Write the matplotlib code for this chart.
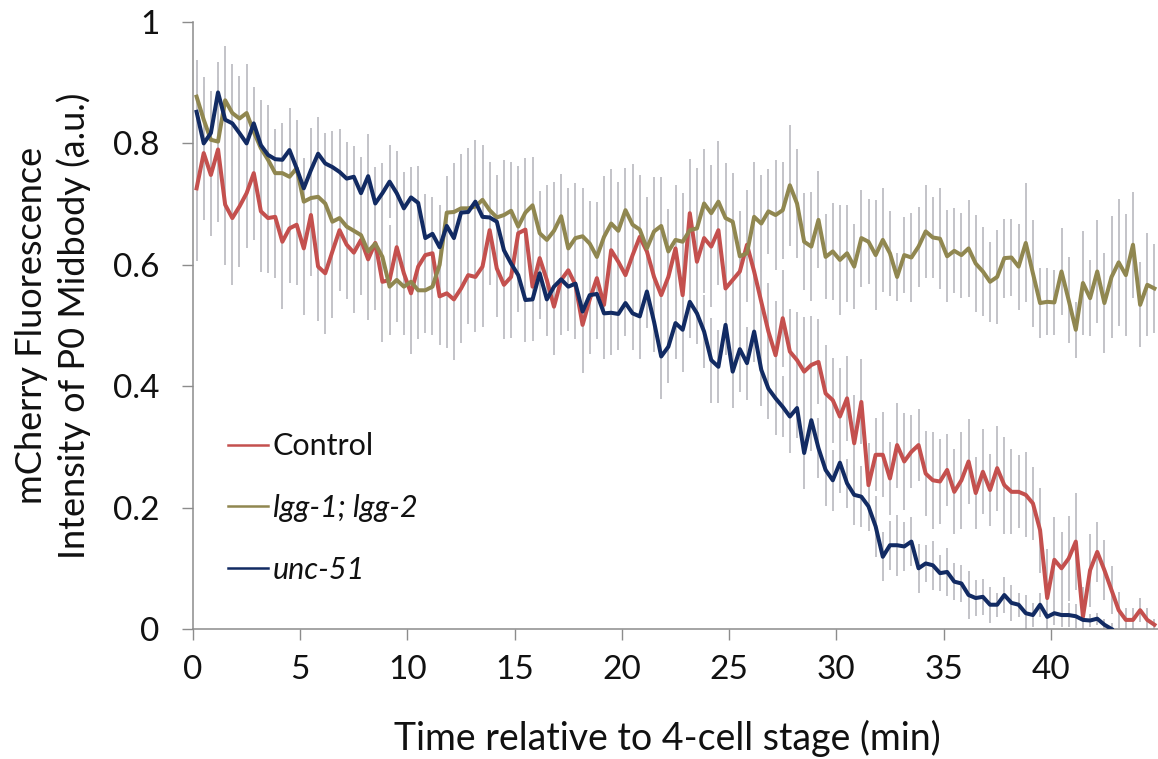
import numpy as np
import matplotlib
matplotlib.use("Agg")
import matplotlib.pyplot as plt
from matplotlib.lines import Line2D

plt.rcParams['font.family'] = ['Lato', 'DejaVu Sans']

# frames every 20 s, time in min relative to 4-cell stage
n_frames = 135
time_min = (np.arange(n_frames) + 0.5) / 3.0

control = [0.726, 0.784, 0.748, 0.790, 0.699, 0.677, 0.696, 0.718, 0.751, 0.688,
           0.677, 0.679, 0.638, 0.660, 0.666, 0.627, 0.682, 0.597, 0.586, 0.622,
           0.657, 0.633, 0.620, 0.641, 0.609, 0.636, 0.572, 0.575, 0.629, 0.586,
           0.553, 0.597, 0.616,
           0.619, 0.548, 0.553, 0.543, 0.561, 0.583, 0.580, 0.597, 0.657, 0.594,
           0.567, 0.580, 0.652, 0.658, 0.564, 0.611, 0.575, 0.531, 0.575, 0.591,
           0.567, 0.501, 0.543, 0.578, 0.534, 0.624, 0.605, 0.583, 0.616, 0.646,
           0.622, 0.580, 0.550, 0.580,
           0.627, 0.550, 0.685, 0.605, 0.644, 0.630, 0.657, 0.561, 0.575, 0.589,
           0.633, 0.589, 0.539, 0.490, 0.451, 0.512, 0.457, 0.443, 0.424, 0.435,
           0.440, 0.388, 0.377, 0.350, 0.380, 0.306, 0.374,
           0.237, 0.287, 0.287, 0.248, 0.303, 0.276, 0.292, 0.303, 0.256, 0.245,
           0.243, 0.262, 0.226, 0.245, 0.276, 0.224, 0.259, 0.229, 0.265, 0.237,
           0.226, 0.226, 0.221, 0.207, 0.163, 0.051, 0.114, 0.100, 0.116, 0.144,
           0.020, 0.097, 0.127, 0.097, 0.064, 0.031, 0.015, 0.015, 0.031, 0.015,
           0.007]
control_err = [0.12, 0.11, 0.10, 0.12, 0.10, 0.11, 0.10, 0.09, 0.11, 0.10,
               0.09, 0.10, 0.11, 0.09, 0.10, 0.11, 0.10, 0.09, 0.10, 0.11,
               0.10, 0.09, 0.10, 0.09, 0.10, 0.11, 0.10, 0.09, 0.10, 0.09,
               0.10, 0.09, 0.10,
               0.09, 0.08, 0.09, 0.10, 0.09, 0.08, 0.09, 0.10, 0.09, 0.08,
               0.09, 0.10, 0.09, 0.08, 0.09, 0.10, 0.09, 0.08, 0.09, 0.10,
               0.09, 0.08, 0.09, 0.10, 0.09, 0.08, 0.09, 0.10, 0.09, 0.08,
               0.09, 0.10, 0.09, 0.08,
               0.09, 0.10, 0.09, 0.08, 0.09, 0.10, 0.09, 0.08, 0.09, 0.10,
               0.09, 0.08, 0.09, 0.08, 0.09, 0.08, 0.07, 0.08, 0.09, 0.08,
               0.07, 0.08, 0.07, 0.08, 0.07, 0.08, 0.07,
               0.07, 0.06, 0.07, 0.06, 0.07, 0.08, 0.06, 0.06, 0.07, 0.08,
               0.07, 0.06, 0.07, 0.08, 0.07, 0.06, 0.07, 0.06, 0.07, 0.08,
               0.07, 0.06, 0.07, 0.06, 0.07, 0.08, 0.07, 0.06, 0.07, 0.08,
               0.05, 0.06, 0.05, 0.05, 0.04, 0.03, 0.02, 0.02, 0.02, 0.02,
               0.01]

lgg = [0.877, 0.839, 0.806, 0.803, 0.871, 0.850, 0.841, 0.850, 0.819, 0.792,
       0.773, 0.751, 0.751, 0.745, 0.759, 0.704, 0.710, 0.712, 0.701, 0.671,
       0.677, 0.663, 0.656, 0.649, 0.622, 0.635, 0.613, 0.564, 0.575, 0.564,
       0.572, 0.558, 0.558,
       0.564, 0.600, 0.686, 0.687, 0.693, 0.693, 0.696, 0.707, 0.690, 0.678,
       0.682, 0.689, 0.663, 0.686, 0.698, 0.652, 0.641, 0.656, 0.680, 0.627,
       0.644, 0.647, 0.635, 0.613, 0.646, 0.668, 0.656, 0.690, 0.666, 0.658,
       0.627, 0.655, 0.664, 0.622,
       0.641, 0.638, 0.657, 0.660, 0.701, 0.685, 0.704, 0.677, 0.671, 0.614,
       0.619, 0.679, 0.668, 0.688, 0.682, 0.690, 0.731, 0.701, 0.638, 0.630,
       0.674, 0.613, 0.622, 0.608, 0.619, 0.597, 0.644, 0.638, 0.616, 0.641,
       0.619,
       0.580, 0.616, 0.612, 0.630, 0.655, 0.645, 0.643, 0.614, 0.623, 0.616,
       0.627, 0.602, 0.589, 0.572, 0.580, 0.611, 0.612, 0.597, 0.636, 0.586,
       0.537, 0.539, 0.538, 0.589, 0.542, 0.493, 0.570, 0.545, 0.589, 0.537,
       0.580, 0.604, 0.583, 0.633, 0.534, 0.567, 0.561]
lgg_err = [0.06, 0.07, 0.08, 0.07, 0.09, 0.08, 0.07, 0.08, 0.07, 0.08,
           0.09, 0.07, 0.08, 0.09, 0.08, 0.07, 0.09, 0.08, 0.07, 0.08,
           0.09, 0.08, 0.07, 0.09, 0.08, 0.10, 0.09, 0.08, 0.07, 0.08,
           0.09, 0.08, 0.07,
           0.08, 0.07, 0.06, 0.08, 0.09, 0.10, 0.11, 0.09, 0.08, 0.07,
           0.09, 0.08, 0.10, 0.09, 0.08, 0.07, 0.09, 0.08, 0.07, 0.10,
           0.09, 0.08, 0.07, 0.09, 0.10, 0.09, 0.08, 0.07, 0.10, 0.09,
           0.08, 0.09, 0.08, 0.07,
           0.09, 0.08, 0.07, 0.10, 0.09, 0.08, 0.10, 0.09, 0.08, 0.07,
           0.08, 0.09, 0.08, 0.07, 0.09, 0.08, 0.10, 0.09, 0.08, 0.09,
           0.08, 0.07, 0.08, 0.09, 0.08, 0.07,
           0.080, 0.070, 0.090, 0.085, 0.070, 0.040, 0.063, 0.073, 0.066, 0.076,
           0.067, 0.083, 0.076, 0.070, 0.070, 0.080, 0.080, 0.074, 0.066, 0.077,
           0.065, 0.064, 0.071, 0.098, 0.088, 0.057, 0.055, 0.053, 0.071, 0.071,
           0.046, 0.085, 0.063, 0.085, 0.082, 0.100, 0.105, 0.100, 0.087, 0.070,
           0.085, 0.074]

unc51 = [0.852, 0.800, 0.817, 0.884, 0.839, 0.833, 0.817, 0.800, 0.833, 0.797,
         0.781, 0.774, 0.773, 0.789, 0.759, 0.726, 0.756, 0.783, 0.767, 0.761,
         0.753, 0.742, 0.745, 0.718, 0.746, 0.701, 0.718, 0.737, 0.718, 0.693,
         0.711, 0.702, 0.644,
         0.651, 0.629, 0.664, 0.644, 0.686, 0.687, 0.704, 0.679, 0.678, 0.671,
         0.624, 0.602, 0.583, 0.542, 0.543, 0.586, 0.543, 0.564, 0.576, 0.564,
         0.569, 0.523, 0.550, 0.552, 0.520, 0.521, 0.519, 0.537, 0.520, 0.515,
         0.556, 0.506, 0.449, 0.465,
         0.504, 0.493, 0.539, 0.520, 0.490, 0.443, 0.432, 0.501, 0.424, 0.461,
         0.438, 0.490, 0.427, 0.396, 0.380, 0.366, 0.350, 0.364, 0.290, 0.344,
         0.298, 0.262, 0.245, 0.274, 0.240, 0.221,
         0.218, 0.202, 0.169, 0.119, 0.138, 0.138, 0.136, 0.144, 0.100, 0.108,
         0.105, 0.092, 0.094, 0.078, 0.075, 0.056, 0.051, 0.053, 0.040, 0.040,
         0.056, 0.043, 0.040, 0.026, 0.023, 0.040, 0.020, 0.026, 0.023, 0.023,
         0.021, 0.015, 0.014, 0.017, 0.007, 0.000]
unc51_err = [0.06, 0.05, 0.07, 0.05, 0.06, 0.07, 0.06, 0.05, 0.06, 0.07,
             0.06, 0.05, 0.06, 0.07, 0.06, 0.05, 0.07, 0.06, 0.05, 0.06,
             0.07, 0.06, 0.05, 0.06, 0.07, 0.06, 0.05, 0.06, 0.07, 0.06,
             0.05, 0.06, 0.07,
             0.06, 0.07, 0.06, 0.05, 0.06, 0.07, 0.06, 0.05, 0.06, 0.07,
             0.06, 0.07, 0.06, 0.07, 0.06, 0.05, 0.06, 0.07, 0.06, 0.05,
             0.06, 0.07, 0.06, 0.05, 0.06, 0.07, 0.06, 0.05, 0.06, 0.07,
             0.06, 0.05, 0.07, 0.06,
             0.06, 0.07, 0.06, 0.05, 0.06, 0.07, 0.06, 0.05, 0.06, 0.07,
             0.06, 0.05, 0.06, 0.05, 0.06, 0.05, 0.06, 0.05, 0.06, 0.05,
             0.05, 0.06, 0.05, 0.05, 0.04, 0.05,
             0.05, 0.04, 0.05, 0.04, 0.04, 0.05, 0.04, 0.04, 0.04, 0.03,
             0.04, 0.03, 0.04, 0.03, 0.03, 0.04, 0.03, 0.03, 0.03, 0.02,
             0.03, 0.03, 0.02, 0.03, 0.02, 0.02, 0.02, 0.02, 0.02, 0.02,
             0.02, 0.02, 0.01, 0.01, 0.01, 0.01]

series = [
    ("Control", control, control_err, "#c4504e", "normal"),
    ("lgg-1; lgg-2", lgg, lgg_err, "#908750", "italic"),
    ("unc-51", unc51, unc51_err, "#122b63", "italic"),
]

x_ticks = [0, 5, 10, 15, 20, 25, 30, 35, 40]
y_ticks = [0, 0.2, 0.4, 0.6, 0.8, 1.0]
y_tick_labels = ["0", "0.2", "0.4", "0.6", "0.8", "1"]

fig = plt.figure(figsize=(11.58, 7.59), dpi=100)
ax = fig.add_axes([193 / 1158, 130 / 759, 965 / 1158, 607 / 759])

for name, vals, err, col, style in series:
    t = time_min[:len(vals)]
    ax.errorbar(t, vals, yerr=err, fmt='none', ecolor='#c3c3c8',
                elinewidth=1.4, capsize=0, zorder=1)
for name, vals, err, col, style in series:
    t = time_min[:len(vals)]
    ax.plot(t, vals, color=col, lw=2.9, solid_joinstyle='round', zorder=3)

ax.set_xlim(0, 45)
ax.set_ylim(0, 1)
ax.set_xticks(x_ticks)
ax.set_yticks(y_ticks)
ax.set_yticklabels(y_tick_labels)

for side in ['top', 'right']:
    ax.spines[side].set_visible(False)
for side in ['left', 'bottom']:
    ax.spines[side].set_color('#8c8c8c')
    ax.spines[side].set_linewidth(1.1)

ax.tick_params(axis='both', direction='out', length=8, width=1.0,
               color='#8c8c8c', labelsize=24, labelcolor='#111111')
ax.tick_params(axis='x', pad=11)
ax.tick_params(axis='y', pad=16)

ax.set_xlabel("Time relative to 4-cell stage (min)", fontsize=27, color='#111111')
ax.xaxis.set_label_coords(0.492, -109 / 607)
ax.xaxis.label.set_verticalalignment('center')

ax.set_ylabel("mCherry Fluorescence\nIntensity of P0 Midbody (a.u.)",
              fontsize=26, color='#111111', linespacing=1.3)
ax.yaxis.set_label_coords(-0.145, 0.5)
ax.yaxis.label.set_verticalalignment('center')

handles = [Line2D([], [], color=s[3], lw=1.8) for s in series]
leg = ax.legend(handles, [s[0] for s in series], loc='upper left',
                bbox_to_anchor=(0.024, 0.344), frameon=False, fontsize=22,
                handlelength=1.3, handletextpad=0.15, labelspacing=1.1,
                borderaxespad=0)
for txt, s in zip(leg.get_texts(), series):
    txt.set_fontstyle(s[4])
    txt.set_color('#111111')

fig.savefig("out.png", dpi=100)
